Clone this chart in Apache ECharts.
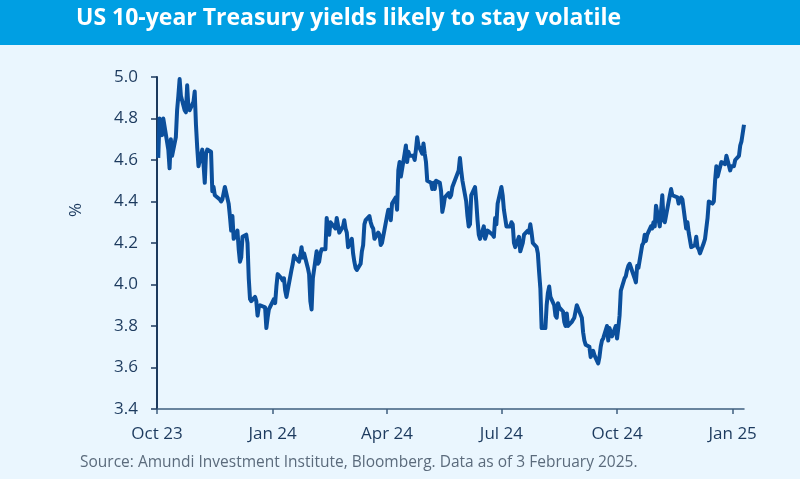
<!DOCTYPE html>
<html>
<head>
<meta charset="utf-8">
<script src="https://cdn.jsdelivr.net/npm/echarts@6/dist/echarts.min.js"></script>
<style>
html,body{margin:0;padding:0;background:#eaf6fe;}
#chart{width:800px;height:479px;}
</style>
</head>
<body>
<div id="chart"></div>
<script>
const titleText = 'US 10-year Treasury yields likely to stay volatile';
const sourceText = 'Source: Amundi Investment Institute, Bloomberg. Data as of 3 February 2025.';
const yAxisTitle = '%';
const yTicks = [3.4, 3.6, 3.8, 4.0, 4.2, 4.4, 4.6, 4.8, 5.0];
const tickDates = ['2023-10-01','2024-01-01','2024-04-01','2024-07-01','2024-10-01','2025-01-01'];
const tickLabels = ['Oct 23','Jan 24','Apr 24','Jul 24','Oct 24','Jan 25'];

const dates = [
'2023-10-02','2023-10-03','2023-10-04','2023-10-05','2023-10-06','2023-10-10','2023-10-11','2023-10-12','2023-10-13',
'2023-10-16','2023-10-17','2023-10-18','2023-10-19','2023-10-20','2023-10-23','2023-10-24','2023-10-25','2023-10-26','2023-10-27',
'2023-10-30','2023-10-31','2023-11-01','2023-11-02','2023-11-03','2023-11-06','2023-11-07','2023-11-08','2023-11-09','2023-11-10',
'2023-11-13','2023-11-14','2023-11-15','2023-11-16','2023-11-17','2023-11-20','2023-11-21','2023-11-22','2023-11-24',
'2023-11-27','2023-11-28','2023-11-29','2023-11-30','2023-12-01','2023-12-04','2023-12-05','2023-12-06','2023-12-07','2023-12-08',
'2023-12-11','2023-12-12','2023-12-13','2023-12-14','2023-12-15','2023-12-18','2023-12-19','2023-12-20','2023-12-21','2023-12-22',
'2023-12-26','2023-12-27','2023-12-28','2023-12-29',
'2024-01-02','2024-01-03','2024-01-04','2024-01-05','2024-01-08','2024-01-09','2024-01-10','2024-01-11','2024-01-12',
'2024-01-16','2024-01-17','2024-01-18','2024-01-19','2024-01-22','2024-01-23','2024-01-24','2024-01-25','2024-01-26',
'2024-01-29','2024-01-30','2024-01-31','2024-02-01','2024-02-02','2024-02-05','2024-02-06','2024-02-07','2024-02-08','2024-02-09',
'2024-02-12','2024-02-13','2024-02-14','2024-02-15','2024-02-16','2024-02-20','2024-02-21','2024-02-22','2024-02-23',
'2024-02-26','2024-02-27','2024-02-28','2024-02-29','2024-03-01','2024-03-04','2024-03-05','2024-03-06','2024-03-07','2024-03-08',
'2024-03-11','2024-03-12','2024-03-13','2024-03-14','2024-03-15','2024-03-18','2024-03-19','2024-03-20','2024-03-21','2024-03-22',
'2024-03-25','2024-03-26','2024-03-27','2024-03-28','2024-04-01','2024-04-02','2024-04-03','2024-04-04','2024-04-05',
'2024-04-08','2024-04-09','2024-04-10','2024-04-11','2024-04-12','2024-04-15','2024-04-16','2024-04-17','2024-04-18','2024-04-19',
'2024-04-22','2024-04-23','2024-04-24','2024-04-25','2024-04-26','2024-04-29','2024-04-30','2024-05-01','2024-05-02','2024-05-03',
'2024-05-06','2024-05-07','2024-05-08','2024-05-09','2024-05-10','2024-05-13','2024-05-14','2024-05-15','2024-05-16','2024-05-17',
'2024-05-20','2024-05-21','2024-05-22','2024-05-23','2024-05-24','2024-05-28','2024-05-29','2024-05-30','2024-05-31',
'2024-06-03','2024-06-04','2024-06-05','2024-06-06','2024-06-07','2024-06-10','2024-06-11','2024-06-12','2024-06-13','2024-06-14',
'2024-06-17','2024-06-18','2024-06-20','2024-06-21','2024-06-24','2024-06-25','2024-06-26','2024-06-27','2024-06-28',
'2024-07-01','2024-07-02','2024-07-03','2024-07-05','2024-07-08','2024-07-09','2024-07-10','2024-07-11','2024-07-12',
'2024-07-15','2024-07-16','2024-07-17','2024-07-18','2024-07-19','2024-07-22','2024-07-23','2024-07-24','2024-07-25','2024-07-26',
'2024-07-29','2024-07-30','2024-07-31','2024-08-01','2024-08-02','2024-08-05','2024-08-06','2024-08-07','2024-08-08','2024-08-09',
'2024-08-12','2024-08-13','2024-08-14','2024-08-15','2024-08-16','2024-08-19','2024-08-20','2024-08-21','2024-08-22','2024-08-23',
'2024-08-26','2024-08-27','2024-08-28','2024-08-29','2024-08-30','2024-09-03','2024-09-04','2024-09-05','2024-09-06',
'2024-09-09','2024-09-10','2024-09-11','2024-09-12','2024-09-13','2024-09-16','2024-09-17','2024-09-18','2024-09-19','2024-09-20',
'2024-09-23','2024-09-24','2024-09-25','2024-09-26','2024-09-27','2024-09-30','2024-10-01','2024-10-02','2024-10-03','2024-10-04',
'2024-10-07','2024-10-08','2024-10-09','2024-10-10','2024-10-11','2024-10-15','2024-10-16','2024-10-17','2024-10-18',
'2024-10-21','2024-10-22','2024-10-23','2024-10-24','2024-10-25','2024-10-28','2024-10-29','2024-10-30','2024-10-31','2024-11-01',
'2024-11-04','2024-11-05','2024-11-06','2024-11-07','2024-11-08','2024-11-12','2024-11-13','2024-11-14','2024-11-15',
'2024-11-18','2024-11-19','2024-11-20','2024-11-21','2024-11-22','2024-11-25','2024-11-26','2024-11-27','2024-11-29',
'2024-12-02','2024-12-03','2024-12-04','2024-12-05','2024-12-06','2024-12-09','2024-12-10','2024-12-11','2024-12-12','2024-12-13',
'2024-12-16','2024-12-17','2024-12-18','2024-12-19','2024-12-20','2024-12-23','2024-12-24','2024-12-26','2024-12-27',
'2024-12-30','2024-12-31','2025-01-02','2025-01-03','2025-01-06','2025-01-07','2025-01-08','2025-01-10'
];

const yields = [
4.61,4.80,4.73,4.72,4.80,4.65,4.56,4.70,4.62,
4.71,4.84,4.91,4.99,4.91,4.84,4.83,4.96,4.85,4.84,
4.88,4.93,4.77,4.66,4.57,4.65,4.58,4.49,4.63,4.65,
4.64,4.45,4.47,4.43,4.43,4.41,4.40,4.41,4.47,
4.39,4.33,4.26,4.33,4.22,4.26,4.17,4.11,4.13,4.23,
4.24,4.20,4.03,3.93,3.92,3.94,3.92,3.85,3.89,3.90,
3.89,3.79,3.84,3.88,
3.93,3.91,3.99,4.05,4.03,4.02,4.03,3.97,3.94,
4.07,4.10,4.14,4.13,4.11,4.14,4.18,4.13,4.15,
4.08,4.05,3.92,3.88,4.03,4.16,4.10,4.11,4.15,4.17,
4.17,4.32,4.27,4.24,4.30,4.27,4.32,4.32,4.25,
4.28,4.31,4.27,4.25,4.18,4.22,4.15,4.11,4.08,4.07,
4.10,4.16,4.19,4.29,4.31,4.33,4.30,4.28,4.27,4.22,
4.25,4.24,4.19,4.20,4.33,4.36,4.35,4.31,4.39,
4.42,4.36,4.55,4.59,4.52,4.63,4.67,4.59,4.64,4.62,
4.62,4.60,4.65,4.71,4.67,4.63,4.68,4.63,4.59,4.50,
4.49,4.46,4.49,4.46,4.50,4.49,4.45,4.35,4.38,4.42,
4.44,4.42,4.43,4.47,4.47,4.55,4.61,4.55,4.50,
4.40,4.33,4.28,4.29,4.43,4.47,4.40,4.31,4.24,4.22,
4.28,4.22,4.26,4.26,4.24,4.23,4.32,4.29,4.39,
4.47,4.43,4.36,4.28,4.28,4.30,4.29,4.20,4.18,
4.23,4.16,4.16,4.20,4.24,4.26,4.25,4.29,4.25,4.20,
4.18,4.15,4.06,3.98,3.79,3.79,3.90,3.96,3.99,3.94,
3.90,3.85,3.84,3.91,3.89,3.87,3.82,3.80,3.86,3.80,
3.82,3.83,3.84,3.87,3.90,3.84,3.77,3.73,3.71,
3.70,3.65,3.65,3.68,3.66,3.62,3.65,3.70,3.73,3.74,
3.80,3.73,3.79,3.79,3.75,3.80,3.74,3.79,3.85,3.97,
4.03,4.04,4.07,4.09,4.10,4.03,4.01,4.09,4.08,
4.19,4.20,4.24,4.21,4.24,4.28,4.27,4.30,4.28,4.38,
4.28,4.28,4.43,4.31,4.30,4.43,4.46,4.43,4.43,
4.42,4.39,4.41,4.42,4.41,4.27,4.30,4.25,4.18,
4.19,4.23,4.18,4.17,4.15,4.20,4.22,4.27,4.32,4.40,
4.39,4.40,4.50,4.57,4.52,4.59,4.59,4.58,4.62,
4.55,4.57,4.57,4.60,4.62,4.67,4.69,4.77
];

const navy = '#1c3a5e';
const lineBlue = '#0b4f9c';
const FONT = '"Open Sans", "Noto Sans", sans-serif';

const toTs = d => Date.UTC(+d.slice(0, 4), +d.slice(5, 7) - 1, +d.slice(8, 10));
const tickTs = tickDates.map(toTs);
const seriesData = dates.map((d, i) => [toTs(d), yields[i]]);

const chart = echarts.init(document.getElementById('chart'), null, {renderer: 'canvas'});
chart.setOption({
  backgroundColor: '#eaf6fe',
  animation: false,
  textStyle: {fontFamily: FONT},
  graphic: [
    {type: 'rect', left: 0, top: 0, shape: {width: 800, height: 45}, style: {fill: '#009fe3'}, z: 0},
    {type: 'text', left: 76, top: 7, style: {text: titleText, fill: '#ffffff', font: '700 23px ' + FONT}, z: 1},
    {type: 'text', left: 80, top: 455, style: {text: sourceText, fill: '#5b6b7c', font: '15.5px ' + FONT}, z: 1},
    {type: 'text', x: 76, y: 210, rotation: Math.PI / 2,
     style: {text: yAxisTitle, fill: navy, font: '17px ' + FONT, align: 'center', verticalAlign: 'middle'}, z: 1}
  ],
  grid: {left: 157, right: 56, top: 77, bottom: 70, containLabel: false},
  xAxis: {
    type: 'value',
    min: tickTs[0],
    max: toTs('2025-01-10'),
    axisLine: {show: true, lineStyle: {color: '#3f5f7f', width: 1.5}},
    axisTick: {show: true, length: 5, lineStyle: {color: '#3f5f7f', width: 1.5}, customValues: tickTs},
    axisLabel: {
      customValues: tickTs,
      color: navy, fontSize: 17, fontFamily: FONT, margin: 17,
      showMinLabel: true, showMaxLabel: true,
      formatter: function (v) {
        const idx = tickTs.indexOf(v);
        return idx >= 0 ? tickLabels[idx] : '';
      }
    },
    splitLine: {show: false}
  },
  yAxis: {
    type: 'value',
    min: yTicks[0], max: yTicks[yTicks.length - 1], interval: 0.2,
    axisLine: {show: true, lineStyle: {color: navy, width: 2}},
    axisTick: {show: true, length: 6, lineStyle: {color: navy, width: 1.5}},
    axisLabel: {color: navy, fontSize: 17, fontFamily: FONT, margin: 19, formatter: v => v.toFixed(1)},
    splitLine: {show: false}
  },
  series: [{
    type: 'line',
    data: seriesData,
    showSymbol: false,
    symbol: 'none',
    lineStyle: {color: lineBlue, width: 4, join: 'round'},
    z: 3
  }]
});
</script>
</body>
</html>
